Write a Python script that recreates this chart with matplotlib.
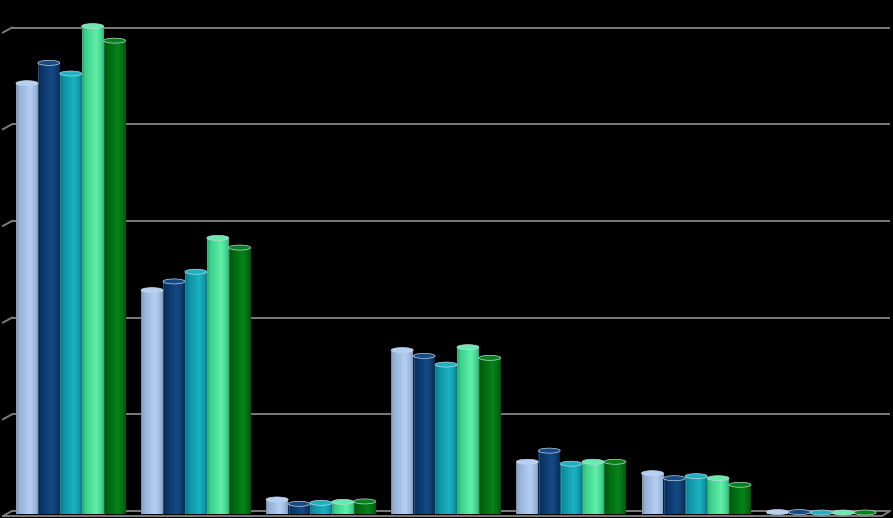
import numpy as np
import matplotlib
matplotlib.use("Agg")
import matplotlib.pyplot as plt
from matplotlib.patches import Ellipse
from matplotlib.colors import to_rgb

# ---- data (grid step = 10) ----
groups = ["G1", "G2", "G3", "G4", "G5", "G6", "G7"]
s1 = [44.5, 23.1, 1.45, 16.9, 5.35, 4.17, 0.15]
s2 = [46.6, 24.0, 1.00, 16.3, 6.50, 3.65, 0.15]
s3 = [45.5, 25.0, 1.10, 15.4, 5.15, 3.86, 0.10]
s4 = [50.4, 28.5, 1.20, 17.2, 5.35, 3.65, 0.10]
s5 = [48.9, 27.5, 1.25, 16.1, 5.35, 2.97, 0.10]
series = [s1, s2, s3, s4, s5]
grid_vals = [0, 10, 20, 30, 40, 50]

# edge, body, highlight colours per series
palette = [
    ("#76879f", "#98b2d8", "#b6d0f4"),
    ("#05244a", "#0a3566", "#164a84"),
    ("#066a78", "#0d92a3", "#1cb2c2"),
    ("#27946a", "#3ad28a", "#62eeaa"),
    ("#03460a", "#00660f", "#07821a"),
]

W, H = 893, 518
fig = plt.figure(figsize=(W / 100, H / 100), dpi=100, facecolor="black")
ax = fig.add_axes([0, 0, 1, 1])
ax.set_facecolor("black")
ax.set_axis_off()

px_x = 125.1          # pixels per category
px_y = 9.67           # pixels per data unit
x0_px, y0_px = 70.75, 511
ax.set_xlim(-x0_px / px_x, (W - x0_px) / px_x)
ax.set_ylim(-(H - y0_px) / px_y, y0_px / px_y)

# gridlines with small perspective ticks on the left
gl, gr = (12 - x0_px) / px_x, (890 - x0_px) / px_x
tick_l = (3 - x0_px) / px_x
gcol = "#7c7c7c"
for g in grid_vals:
    ax.plot([gl, gr], [g, g], color=gcol, lw=1.4, zorder=1, solid_capstyle="butt")
    ax.plot([tick_l, gl], [g - 5 / px_y, g], color=gcol, lw=1.4, zorder=1)
# floor edge
fy = -5 / px_y
ax.plot([tick_l, (882 - x0_px) / px_x, gr], [fy, fy, 0], color=gcol, lw=1.4, zorder=1)

bw = 21.9 / px_x
base = -3 / px_y
cap_h = 5 / px_y
x = np.arange(len(groups))

prof = np.linspace(0, 1, 64)
# cylinder shading: dark left edge, highlight ~65% across, darker right edge
shade = np.interp(prof, [0, 0.12, 0.65, 0.9, 1.0], [0.0, 0.45, 1.0, 0.55, 0.2])


def grad_row(edge, body, hi):
    e, b, h = np.array(to_rgb(edge)), np.array(to_rgb(body)), np.array(to_rgb(hi))
    out = []
    for s in shade:
        if s < 0.5:
            out.append(e + (b - e) * (s / 0.5))
        else:
            out.append(b + (h - b) * ((s - 0.5) / 0.5))
    return np.array(out)[None, :, :]


for k, vals in enumerate(series):
    edge, body, hi = palette[k]
    img = grad_row(edge, body, hi)
    xs = x + (k - 2) * bw
    bars = ax.bar(xs, np.array(vals) - cap_h / 2 - base, bw, bottom=base,
                  color=body, edgecolor="none", zorder=3)
    for rect, v in zip(bars, vals):
        xl = rect.get_x()
        top = v - cap_h / 2
        im = ax.imshow(img, extent=[xl, xl + bw, base, top], aspect="auto",
                       zorder=3, interpolation="bilinear")
        im.set_clip_path(rect)
        cap = Ellipse((xl + bw / 2, top), bw, cap_h,
                      facecolor=hi, edgecolor="#c0d4e4", lw=0.5, zorder=4)
        ax.add_patch(cap)
        # lighter thin line on the left edge
        ax.plot([xl + 0.4 / px_x, xl + 0.4 / px_x], [base, top], color="#c8d8e8",
                lw=0.5, alpha=0.3, zorder=4)

ax.set_xlim(-x0_px / px_x, (W - x0_px) / px_x)
ax.set_ylim(-(H - y0_px) / px_y, y0_px / px_y)

fig.savefig("out.png", dpi=100, facecolor="black")
